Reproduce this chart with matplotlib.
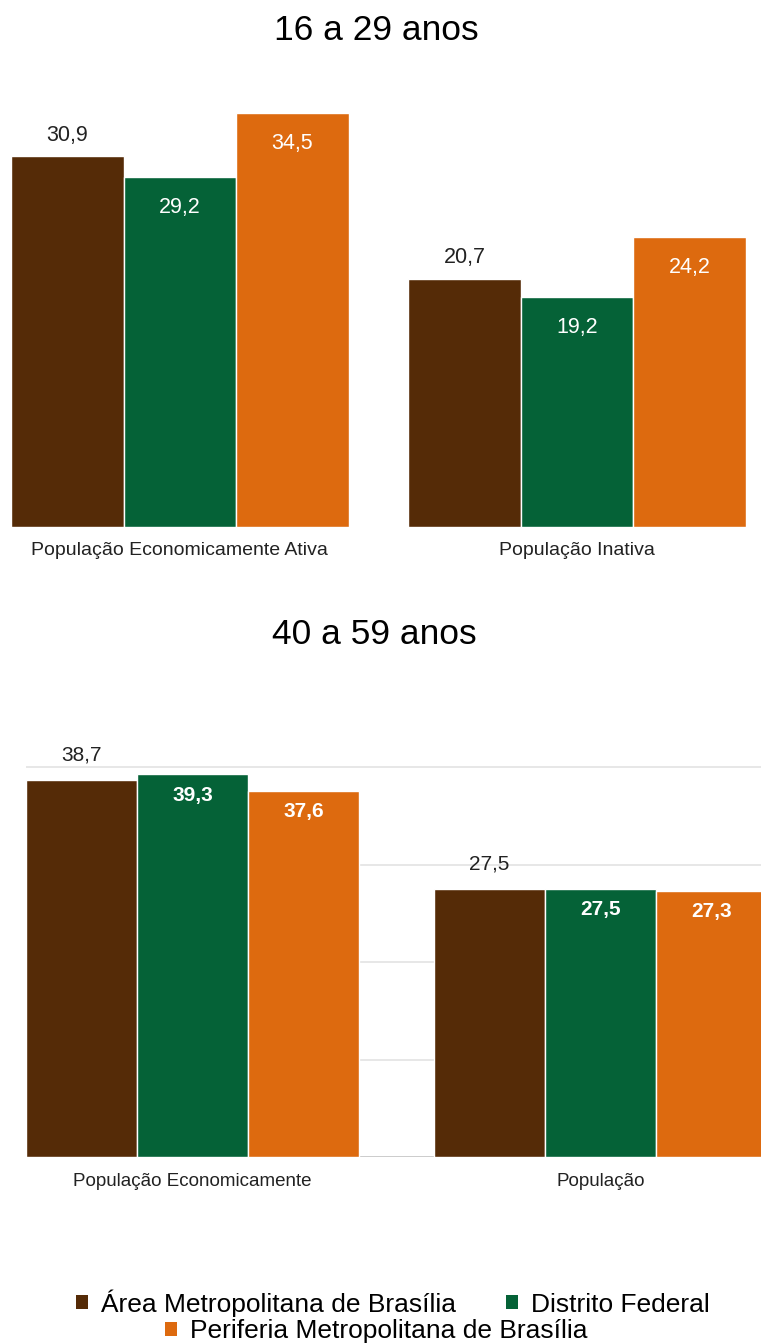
import numpy as np
import matplotlib
matplotlib.use('Agg')
import matplotlib.pyplot as plt
from matplotlib.patches import Patch

plt.rcParams['font.family'] = ['Liberation Sans', 'DejaVu Sans']

series = ['Área Metropolitana de Brasília', 'Distrito Federal',
          'Periferia Metropolitana de Brasília']
colors = ['#552B07', '#056237', '#DD6A0F']

# 16 a 29 anos
cats_young = ['População Economicamente Ativa', 'População Inativa']
area_young = [30.9, 20.7]
df_young = [29.2, 19.2]
periferia_young = [34.5, 24.2]

# 40 a 59 anos
cats_old = ['População Economicamente', 'População']
area_old = [38.7, 27.5]
df_old = [39.3, 27.5]
periferia_old = [37.6, 27.3]

W, H = 761, 1343
fig = plt.figure(figsize=(W / 100, H / 100), dpi=100)


def px_axes(left, right, bottom, height):
    # axes placed by pixel coordinates measured from the top-left corner
    return fig.add_axes([left / W, 1 - bottom / H, (right - left) / W, height / H])


def fmt(v):
    return f'{v:.1f}'.replace('.', ',')


def grouped(ax, cats, vals, gap, fs, bold_inside, above_pt, inside_pt):
    centers = np.arange(len(cats)) * gap
    for i, (v, c) in enumerate(zip(vals, colors)):
        x = centers + (i - 1)
        ax.bar(x, v, width=1.0, color=c, edgecolor='white', linewidth=1.0, zorder=2)
        for xi, vi in zip(x, v):
            if i == 0:
                ax.annotate(fmt(vi), (xi, vi), xytext=(0, above_pt), textcoords='offset points',
                            ha='center', va='center', fontsize=fs, color='#222222')
            else:
                ax.annotate(fmt(vi), (xi, vi), xytext=(0, -inside_pt), textcoords='offset points',
                            ha='center', va='center', fontsize=fs, color='white',
                            fontweight='bold' if bold_inside else 'normal')
    ax.set_xticks(centers)
    return centers


# top chart
ax1 = px_axes(11, 746, 527, 432)
grouped(ax1, cats_young, [area_young, df_young, periferia_young], 3.527, 15.5, False, 15, 22)
ax1.set_xlim(-1.5, 3.527 + 1.5)
ax1.set_ylim(0, 36)
ax1.set_xticklabels(cats_young, fontsize=14, color='#222222')
ax1.tick_params(axis='x', length=0, pad=10.5)
ax1.set_yticks([])
for s in ax1.spines.values():
    s.set_visible(False)

# bottom chart
ax2 = px_axes(26, 761, 1157, 41 * 9.74)
grouped(ax2, cats_old, [area_old, df_old, periferia_old], 3.676, 15, True, 18, 15)
ax2.set_xlim(-1.5, -1.5 + 735 / 111)
ax2.set_ylim(0, 41)
ax2.set_yticks([0, 10, 20, 30, 40])
ax2.yaxis.grid(True, color='#e3e3e3', linewidth=1.2, zorder=0)
ax2.set_axisbelow(True)
ax2.tick_params(axis='y', length=0, labelleft=False)
ax2.set_xticklabels(cats_old, fontsize=13.5, color='#222222')
ax2.tick_params(axis='x', length=0, pad=11.5)
for s in ax2.spines.values():
    s.set_visible(False)
ax2.axhline(0, color='#c8c8c8', linewidth=1.2, zorder=1)

fig.text(376 / W, 1 - 30 / H, '16 a 29 anos', ha='center', va='center', fontsize=25.5)
fig.text(374 / W, 1 - 634 / H, '40 a 59 anos', ha='center', va='center', fontsize=25.5)

handles = [Patch(facecolor=c, edgecolor='none') for c in colors]
leg_kw = dict(frameon=False, fontsize=19, handlelength=0.45, handleheight=0.45,
              handletextpad=0.5, columnspacing=1.9, borderpad=0, borderaxespad=0,
              loc='center')
fig.legend(handles[:2], series[:2], ncol=2, bbox_to_anchor=(393 / W, 1 - 1303 / H), **leg_kw)
fig.legend(handles[2:], series[2:], ncol=1, bbox_to_anchor=(376 / W, 1 - 1331 / H), **leg_kw)

fig.savefig('out.png', dpi=100)
